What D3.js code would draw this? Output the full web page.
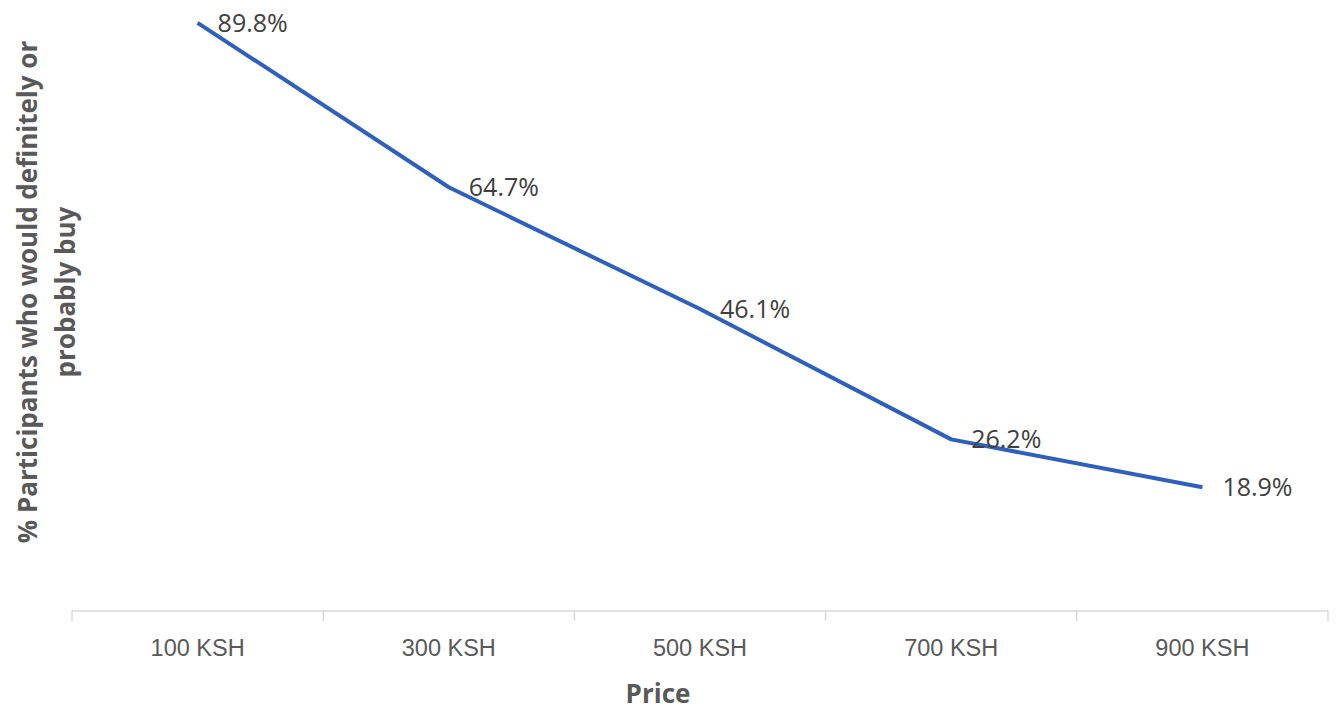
<!DOCTYPE html>
<html>
<head>
<meta charset="utf-8">
<script src="https://cdn.jsdelivr.net/npm/d3@7"></script>
<style>
  body { margin: 0; background: #fff; }
  svg { display: block; font-family: 'Open Sans', 'Noto Sans', sans-serif; }
  .tick-label { fill: #595959; font-size: 23.5px; }
  .data-label { fill: #404040; font-size: 25px; }
  .axis-title { fill: #595959; font-size: 26px; font-weight: bold; }
</style>
</head>
<body>
<div class="chart"></div>
<script>
// data
var prices = ['100 KSH', '300 KSH', '500 KSH', '700 KSH', '900 KSH'];
var percentBuy = [89.8, 64.7, 46.1, 26.2, 18.9];
var yTitleLines = ['% Participants who would definitely or', 'probably buy'];

var width = 1336;
var height = 711;
var plotLeft = 72;
var plotRight = 1328;
var axisY = 611;

var svg = d3.select('.chart').append('svg')
  .attr('width', width)
  .attr('height', height);

var xScale = d3.scaleBand()
  .domain(prices)
  .range([plotLeft, plotRight])
  .padding(0);

// the original plot area is cut off at the top, so 100% sits above the frame
var yScale = d3.scaleLinear()
  .domain([0, 100])
  .range([axisY, -44]);

// x axis: light grey baseline with ticks at the category edges
var xAxis = d3.axisBottom(xScale).tickSize(0).tickFormat('');
var gx = svg.append('g')
  .attr('transform', 'translate(0,' + axisY + ')')
  .call(xAxis);
gx.select('.domain').remove();

gx.append('line')
  .attr('x1', plotLeft)
  .attr('x2', plotRight)
  .attr('stroke', '#d9d9d9')
  .attr('stroke-width', 1.5);

var edges = prices.map(function(p) { return xScale(p); });
edges.push(plotRight);
gx.selectAll('.edge')
  .data(edges)
  .enter()
  .append('line')
  .attr('class', 'edge')
  .attr('x1', function(d) { return d; })
  .attr('x2', function(d) { return d; })
  .attr('y1', 0)
  .attr('y2', 10)
  .attr('stroke', '#d9d9d9')
  .attr('stroke-width', 1.5);

gx.selectAll('.tick-label')
  .data(prices)
  .enter()
  .append('text')
  .attr('class', 'tick-label')
  .attr('x', function(d) { return xScale(d) + xScale.bandwidth() / 2; })
  .attr('y', 37)
  .attr('dy', '0.35em')
  .style('text-anchor', 'middle')
  .text(function(d) { return d; });

// line
var line = d3.line()
  .x(function(d, i) { return xScale(prices[i]) + xScale.bandwidth() / 2; })
  .y(function(d) { return yScale(d); });

svg.append('path')
  .datum(percentBuy)
  .attr('d', line)
  .attr('fill', 'none')
  .attr('stroke', '#2f5fbf')
  .attr('stroke-width', 4)
  .attr('stroke-linejoin', 'round');

// data labels, right of each point
svg.selectAll('.data-label')
  .data(percentBuy)
  .enter()
  .append('text')
  .attr('class', 'data-label')
  .attr('x', function(d, i) { return xScale(prices[i]) + xScale.bandwidth() / 2 + 20; })
  .attr('y', function(d) { return yScale(d); })
  .attr('dy', '0.35em')
  .text(function(d) { return d.toFixed(1) + '%'; });

// axis titles
svg.append('text')
  .attr('class', 'axis-title')
  .attr('x', 658)
  .attr('y', 694)
  .attr('dy', '0.35em')
  .style('text-anchor', 'middle')
  .text('Price');

var yTitle = svg.append('text')
  .attr('class', 'axis-title')
  .attr('transform', 'translate(28,292) rotate(-90)')
  .style('text-anchor', 'middle');

yTitle.selectAll('tspan')
  .data(yTitleLines)
  .enter()
  .append('tspan')
  .attr('x', 0)
  .attr('y', function(d, i) { return i * 38; })
  .attr('dy', '0.35em')
  .text(function(d) { return d; });
</script>
</body>
</html>
